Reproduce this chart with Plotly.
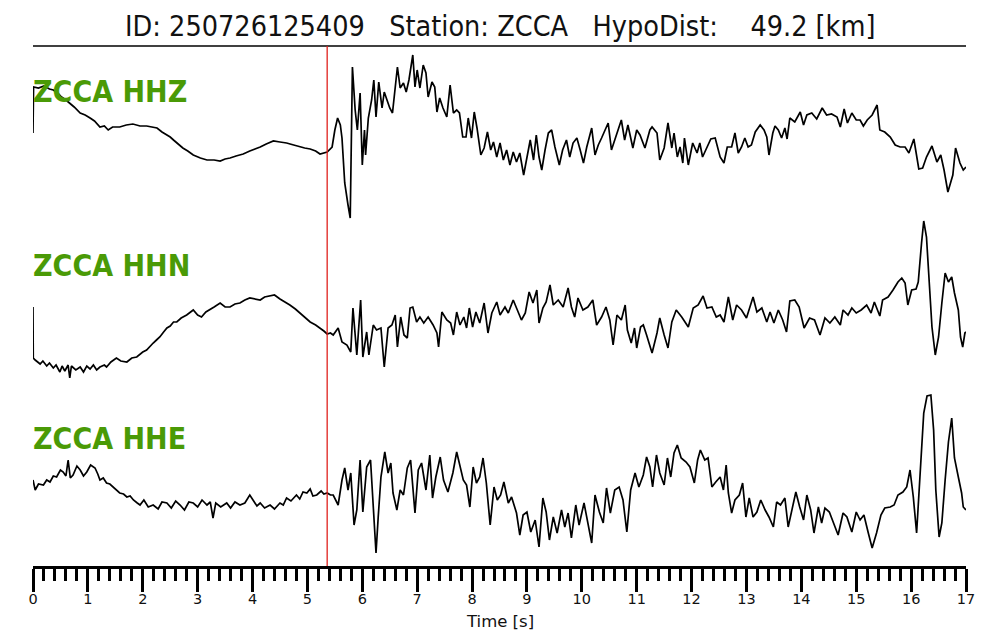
import plotly.graph_objects as go

# ---------------- data ----------------
station = "ZCCA"
event_id = "250726125409"
hypo_dist_km = 49.2
p_pick_s = 5.36
channels = ["HHZ", "HHN", "HHE"]

hhz_t = [0.00,0.01,0.1,0.2,0.3,0.37,0.45,0.52,0.6,0.67,0.75,0.86,0.95,1.04,1.12,1.22,1.3,1.37,1.45,1.58,1.7,1.82,1.95,2.07,2.15,2.26,2.35,2.44,2.5,2.56,2.65,2.73,2.82,2.92,3.05,3.17,3.3,3.41,3.5,3.59,3.7,3.83,3.95,4.05,4.14,4.25,4.38,4.5,4.62,4.75,4.86,4.95,5.05,5.15,5.23,5.3,5.36,5.45,5.5,5.55,5.6,5.63,5.68,5.74,5.78,5.82,5.87,5.91,5.96,6.0,6.04,6.06,6.11,6.17,6.21,6.25,6.3,6.36,6.4,6.45,6.5,6.55,6.6,6.64,6.69,6.75,6.8,6.85,6.92,6.96,7.0,7.05,7.11,7.16,7.2,7.27,7.32,7.36,7.41,7.47,7.54,7.6,7.66,7.72,7.77,7.83,7.89,7.93,7.99,8.04,8.09,8.16,8.22,8.28,8.34,8.39,8.45,8.51,8.57,8.63,8.69,8.75,8.81,8.87,8.94,9.0,9.06,9.12,9.17,9.22,9.27,9.33,9.39,9.45,9.51,9.59,9.65,9.72,9.78,9.84,9.91,9.97,10.03,10.09,10.18,10.24,10.3,10.36,10.42,10.48,10.54,10.6,10.66,10.72,10.78,10.84,10.93,11.0,11.06,11.15,11.24,11.28,11.37,11.42,11.5,11.57,11.64,11.68,11.74,11.79,11.84,11.87,11.94,12.02,12.1,12.15,12.2,12.27,12.35,12.43,12.52,12.59,12.65,12.73,12.79,12.85,12.91,12.97,13.03,13.09,13.16,13.25,13.32,13.37,13.41,13.48,13.52,13.58,13.64,13.7,13.74,13.79,13.88,13.98,14.04,14.1,14.19,14.28,14.38,14.46,14.55,14.65,14.71,14.78,14.84,14.92,15.0,15.07,15.13,15.2,15.29,15.38,15.43,15.52,15.62,15.71,15.8,15.89,15.96,16.05,16.14,16.21,16.28,16.38,16.47,16.54,16.6,16.67,16.76,16.81,16.89,16.95,17.0]
hhz_a = [7,53,52,54,51,50,47,43,40,37,33,27,25,22,19,13,14,10,13,13,15,16,14,14,13,12,8,5,3,0,-4,-8,-11,-15,-18,-20,-20,-21,-19,-18,-16,-14,-11,-9,-7,-4,-1,-2,-3,-5,-7,-8,-9,-11,-14,-13,-12,-7,10,22,15,2,-43,-65,-78,73,30,10,47,-25,10,-15,22,40,60,23,58,32,48,40,32,27,50,73,52,57,48,60,85,53,70,52,75,67,43,58,53,28,42,32,23,55,27,30,27,3,3,22,2,28,12,-15,-8,8,-10,-2,-17,-3,-20,-10,-25,-12,-22,-13,-35,-17,0,-20,5,-17,-30,-10,7,10,-7,-25,-10,0,-17,-3,2,-10,-23,-7,12,-15,-5,2,10,17,-10,0,10,20,0,15,-8,10,5,-8,10,13,7,-20,-8,17,-8,7,-17,-7,-23,2,-25,-3,-13,-3,-17,-8,1,2,-17,-23,-7,-7,7,-13,-7,2,-7,-5,8,15,10,3,-15,7,14,10,2,12,1,22,18,28,15,25,27,21,32,25,26,23,13,31,17,27,20,20,14,20,25,35,10,8,3,-5,-7,-7,-13,1,-29,-28,-17,-6,-22,-15,-30,-52,-35,-8,-23,-30,-27]

hhn_t = [0.0,0.005,0.04,0.1,0.13,0.18,0.25,0.3,0.37,0.42,0.49,0.53,0.58,0.64,0.67,0.7,0.78,0.86,0.92,0.98,1.04,1.1,1.16,1.22,1.3,1.34,1.42,1.52,1.6,1.71,1.8,1.89,2.0,2.07,2.13,2.19,2.25,2.31,2.38,2.44,2.5,2.56,2.62,2.7,2.8,2.86,2.92,3.0,3.07,3.15,3.22,3.3,3.41,3.5,3.59,3.68,3.77,3.86,3.95,4.05,4.14,4.22,4.32,4.4,4.5,4.6,4.68,4.78,4.86,4.95,5.05,5.15,5.23,5.3,5.36,5.42,5.47,5.54,5.56,5.63,5.72,5.79,5.83,5.9,5.97,6.01,6.08,6.12,6.2,6.26,6.34,6.4,6.47,6.54,6.6,6.64,6.7,6.76,6.82,6.87,6.92,6.99,7.05,7.12,7.2,7.29,7.36,7.39,7.45,7.54,7.61,7.66,7.72,7.78,7.85,7.9,7.95,8.01,8.07,8.14,8.22,8.29,8.36,8.45,8.51,8.6,8.66,8.75,8.82,8.9,8.97,9.04,9.11,9.18,9.22,9.29,9.35,9.42,9.48,9.57,9.66,9.75,9.81,9.87,9.93,10.02,10.11,10.2,10.27,10.36,10.44,10.51,10.57,10.64,10.72,10.79,10.83,10.9,10.96,11.0,11.07,11.12,11.18,11.28,11.37,11.42,11.5,11.57,11.64,11.72,11.82,11.94,12.03,12.12,12.21,12.28,12.37,12.45,12.52,12.59,12.67,12.75,12.82,12.91,13.0,13.12,13.19,13.28,13.37,13.43,13.5,13.58,13.66,13.73,13.79,13.88,13.96,14.05,14.15,14.24,14.34,14.43,14.52,14.61,14.71,14.76,14.85,14.92,15.0,15.09,15.19,15.27,15.33,15.43,15.48,15.58,15.67,15.76,15.83,15.89,15.94,16.01,16.09,16.13,16.19,16.23,16.28,16.33,16.38,16.44,16.5,16.56,16.62,16.68,16.74,16.79,16.86,16.9,16.94,16.98,17.0]
hhn_a = [3,-48,-50,-53,-54,-51,-56,-53,-58,-55,-62,-56,-61,-55,-68,-56,-60,-57,-62,-56,-59,-55,-60,-57,-55,-57,-52,-48,-51,-52,-48,-47,-42,-40,-36,-33,-30,-27,-22,-18,-16,-12,-12,-8,-5,-2,0,-5,-7,-2,0,3,7,3,3,6,7,10,12,11,10,13,14,15,11,8,5,1,-3,-7,-12,-15,-18,-21,-24,-23,-25,-20,-18,-32,-35,-42,2,-45,10,-47,-22,-45,-15,-20,-18,-57,-18,-15,-5,-37,-7,-25,-28,2,3,-12,-7,-13,-7,-15,-23,-37,-2,-10,-13,-25,-2,-15,-7,-18,2,-17,-2,-13,7,-23,-3,8,-5,3,-3,10,0,-10,-3,18,7,20,-13,2,8,25,5,10,3,22,3,-7,12,0,3,10,-15,-7,3,-10,-35,-5,-10,5,-20,-33,-18,-38,-17,-15,-25,-43,-23,-8,-25,-38,-12,0,-7,-17,2,5,14,2,3,-7,-5,-12,13,-10,5,0,-8,13,-2,2,-12,-2,-13,0,-10,-22,9,10,3,-18,-8,-10,-25,-8,-13,-7,-15,0,-5,2,-3,0,5,-3,8,-6,10,13,20,28,32,27,5,20,21,28,67,89,73,33,-17,-45,-27,7,37,28,33,17,0,-27,-37,-23,-22]

hhe_t = [0.0,0.04,0.1,0.19,0.25,0.31,0.37,0.43,0.5,0.55,0.6,0.64,0.68,0.73,0.8,0.86,0.92,0.98,1.05,1.13,1.18,1.22,1.28,1.34,1.4,1.46,1.52,1.58,1.65,1.71,1.77,1.83,1.9,1.95,2.02,2.1,2.19,2.28,2.35,2.44,2.52,2.6,2.68,2.76,2.84,2.92,3.0,3.08,3.17,3.23,3.28,3.33,3.42,3.53,3.6,3.68,3.77,3.86,3.95,4.02,4.08,4.14,4.22,4.32,4.4,4.5,4.56,4.62,4.7,4.8,4.86,4.92,4.99,5.05,5.1,5.17,5.25,5.3,5.36,5.42,5.47,5.56,5.63,5.68,5.74,5.79,5.85,5.9,5.96,6.01,6.08,6.15,6.2,6.25,6.29,6.34,6.41,6.47,6.52,6.56,6.63,6.69,6.75,6.82,6.88,6.96,7.02,7.08,7.16,7.23,7.28,7.34,7.42,7.48,7.56,7.65,7.72,7.78,7.84,7.9,7.96,8.02,8.08,8.14,8.2,8.26,8.33,8.4,8.46,8.52,8.58,8.66,8.72,8.81,8.87,8.93,9.0,9.07,9.15,9.22,9.29,9.35,9.41,9.48,9.55,9.63,9.69,9.75,9.81,9.89,9.95,10.04,10.11,10.18,10.24,10.32,10.39,10.45,10.52,10.6,10.68,10.75,10.82,10.89,10.97,11.04,11.12,11.18,11.24,11.29,11.36,11.42,11.5,11.56,11.62,11.68,11.74,11.81,11.9,11.97,12.05,12.11,12.16,12.24,12.3,12.37,12.44,12.52,12.58,12.63,12.67,12.73,12.79,12.87,12.93,12.99,13.05,13.12,13.19,13.26,13.34,13.41,13.49,13.55,13.62,13.7,13.76,13.84,13.9,13.97,14.04,14.1,14.17,14.23,14.31,14.37,14.43,14.51,14.58,14.67,14.76,14.83,14.92,15.0,15.07,15.14,15.22,15.29,15.37,15.45,15.52,15.62,15.69,15.76,15.85,15.92,15.98,16.04,16.1,16.16,16.23,16.29,16.36,16.41,16.45,16.51,16.56,16.62,16.68,16.74,16.79,16.86,16.92,16.95,17.0]
hhe_a = [0,-10,-4,-5,0,-2,4,3,10,8,4,20,2,5,14,10,4,8,15,12,6,0,2,-3,-4,-7,-10,-13,-14,-17,-16,-20,-23,-25,-20,-27,-25,-29,-22,-23,-28,-21,-25,-30,-22,-23,-27,-20,-25,-22,-38,-23,-27,-23,-28,-22,-25,-23,-15,-21,-26,-23,-28,-25,-29,-23,-25,-18,-21,-15,-19,-12,-13,-9,-16,-15,-11,-14,-13,-15,-15,-25,0,12,-10,7,-45,-30,20,-32,13,20,-23,-73,-37,3,28,7,17,-13,-30,-10,-15,12,20,-33,10,17,-10,25,-18,3,23,0,-12,7,28,15,0,-5,-27,13,-3,3,22,-3,-45,-7,-20,-15,-2,-23,-17,-33,-55,-35,-32,-52,-40,-67,-18,-32,-60,-37,-53,-30,-47,-33,-58,-25,-45,-23,-43,-63,-15,-32,-43,-8,-33,-10,-7,-20,-52,-10,7,-7,5,23,13,-7,25,7,-5,22,3,27,35,22,18,13,-3,20,30,20,22,-7,-2,3,-10,15,-13,-33,-20,-15,-3,-37,-18,-37,-32,-20,-30,-37,-47,-22,-25,-18,-47,-27,-12,-27,-40,-15,-30,-53,-27,-43,-28,-32,-43,-55,-33,-37,-52,-32,-40,-35,-53,-68,-53,-35,-28,-27,-25,-15,-12,-7,10,-17,-53,0,67,84,85,50,-10,-57,-43,0,38,62,22,3,-13,-27,-30]

x_ticks = list(range(0, 18))

# ---------------- figure ----------------
# the page body adds an 8 px margin, so the figure is 992x632 and shifted
PAGE = 8
FIG_W, FIG_H = 1000 - PAGE, 640 - PAGE
LEFT, RIGHT, TOP, BOTTOM = 33, 966, 46, 566     # plot area in window pixels
H = BOTTOM - TOP
offsets = {"HHZ": BOTTOM - 140, "HHN": BOTTOM - 310, "HHE": BOTTOM - 480}
series = {"HHZ": (hhz_t, hhz_a), "HHN": (hhn_t, hhn_a), "HHE": (hhe_t, hhe_a)}

fig = go.Figure()
for ch in channels:
    t, a = series[ch]
    fig.add_trace(go.Scatter(
        x=t, y=[offsets[ch] + v for v in a], mode="lines",
        line=dict(color="black", width=1.7), showlegend=False, hoverinfo="skip"))

def py(pix):
    return (BOTTOM - pix) / H

label_pix = {"HHZ": 91, "HHN": 265, "HHE": 438}
annotations = []
for ch in channels:
    annotations.append(dict(
        text=f"<b>{station} {ch}</b>", x=0, xref="paper", xanchor="left",
        y=py(label_pix[ch]), yref="paper", yanchor="middle", showarrow=False,
        font=dict(family="DejaVu Sans Condensed, DejaVu Sans", size=30, color="#4a9a06"),
        xshift=-2))

nb = "\u00a0"
title = f"ID: {event_id}{nb*3}Station: {station}{nb*3}HypoDist:{nb*4}{hypo_dist_km:.1f} [km]"
annotations.append(dict(
    text=title, x=0.5, xref="paper", xanchor="center", y=py(27), yref="paper",
    yanchor="middle", showarrow=False,
    font=dict(family="DejaVu Sans Condensed, DejaVu Sans", size=28.5, color="#111111")))
annotations.append(dict(
    text="Time [s]", x=0.5, xref="paper", xanchor="center", y=py(621), yref="paper",
    yanchor="middle", showarrow=False,
    font=dict(family="DejaVu Sans", size=16.5, color="#111111")))

shapes = [
    dict(type="line", xref="paper", yref="paper", x0=0, x1=1, y0=1, y1=1,
         line=dict(color="black", width=1.6)),
    dict(type="line", xref="x", yref="paper", x0=p_pick_s, x1=p_pick_s, y0=0, y1=1,
         line=dict(color="#e0201b", width=1.3)),
]

fig.update_layout(
    width=FIG_W, height=FIG_H,
    margin=dict(l=LEFT - PAGE, r=FIG_W - (RIGHT - PAGE), t=TOP - PAGE,
                b=FIG_H - (BOTTOM - PAGE), autoexpand=False),
    paper_bgcolor="white", plot_bgcolor="white",
    annotations=annotations, shapes=shapes,
    xaxis=dict(range=[0, 17], tickvals=x_ticks, ticktext=[str(v) for v in x_ticks],
               ticks="outside", ticklen=23, tickwidth=3, tickcolor="black",
               showline=True, linewidth=3, linecolor="black", showgrid=False,
               zeroline=False, ticklabelstandoff=-5,
               tickfont=dict(family="DejaVu Sans", size=14.5, color="#111111"),
               minor=dict(dtick=0.2, ticks="outside", ticklen=12, tickwidth=3,
                          tickcolor="black", showgrid=False)),
    yaxis=dict(range=[0, H], visible=False, showgrid=False, zeroline=False),
)

fig.write_html("out.html")
